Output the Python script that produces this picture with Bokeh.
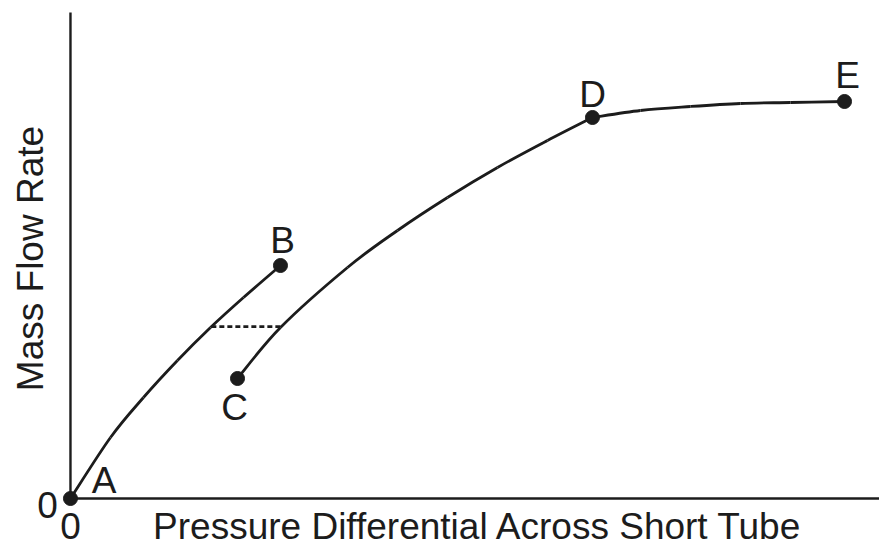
from bokeh.plotting import figure
from bokeh.models import Range1d, Label, ColumnDataSource
from bokeh.embed import file_html
from bokeh.resources import INLINE

# ---- data (arbitrary units: pressure differential 0..100, mass flow 0..100) ----
# curve A -> B
ab_x = [0.0, 5.17, 9.43, 13.82, 18.09, 22.35, 27.13]
ab_y = [0.0, 15.37, 25.44, 34.76, 43.07, 50.63, 58.69]
# curve C -> D
cd_x = [21.58, 27.13, 35.79, 42.25, 48.71, 55.17, 61.63, 67.44]
cd_y = [30.23, 43.07, 58.19, 67.51, 75.82, 83.38, 90.18, 95.97]
# curve D -> E
de_x = [67.44, 73.64, 80.10, 86.56, 93.02, 100.0]
de_y = [95.97, 97.73, 98.74, 99.50, 99.75, 100.0]
# dashed link between the two branches
dash_x = [18.2, 27.3]
dash_y = [43.3, 43.3]
# marked states
point_names = ["A", "B", "C", "D", "E"]
point_x = [0.0, 27.13, 21.58, 67.44, 100.0]
point_y = [0.0, 58.69, 30.23, 95.97, 100.0]
# tick labels / titles
tick_label = "0"
x_title = "Pressure Differential Across Short Tube"
y_title = "Mass Flow Rate"

# ---- layout (positions of the texts, in plot units) ----
letter_pos = [(4.33, 4.53), (27.39, 64.98), (21.19, 22.92), (67.44, 101.76), (100.39, 106.54)]
ink = "#1c1c1c"
font = "Liberation Sans"
fsize = "37px"


def smooth(p, xs, ys, **kw):
    """Draw a smooth curve through the read points (Catmull-Rom as cubic Beziers)."""
    n = len(xs)
    X = [xs[0]] + list(xs) + [xs[-1]]
    Y = [ys[0]] + list(ys) + [ys[-1]]
    x0, y0, x1, y1, cx0, cy0, cx1, cy1 = [], [], [], [], [], [], [], []
    for i in range(1, n):
        x0.append(X[i]); y0.append(Y[i]); x1.append(X[i + 1]); y1.append(Y[i + 1])
        cx0.append(X[i] + (X[i + 1] - X[i - 1]) / 6.0)
        cy0.append(Y[i] + (Y[i + 1] - Y[i - 1]) / 6.0)
        cx1.append(X[i + 1] - (X[i + 2] - X[i]) / 6.0)
        cy1.append(Y[i + 1] - (Y[i + 2] - Y[i]) / 6.0)
    p.bezier(x0=x0, y0=y0, x1=x1, y1=y1, cx0=cx0, cy0=cy0, cx1=cx1, cy1=cy1, **kw)


p = figure(width=879, height=546, output_backend="svg", toolbar_location=None,
           x_range=Range1d(-9.04, 104.52), y_range=Range1d(-12.09, 125.44),
           x_axis_type=None, y_axis_type=None, min_border=0,
           min_border_left=0, min_border_right=0, min_border_top=0, min_border_bottom=0)
p.grid.visible = False
p.outline_line_color = None
p.background_fill_color = "white"
p.border_fill_color = "white"

# axes lines
p.line([0, 0], [0, 122.4], line_color=ink, line_width=2.4)
p.line([0, 105.0], [0, 0], line_color=ink, line_width=2.4)

# curves
smooth(p, ab_x, ab_y, line_color=ink, line_width=2.8)
smooth(p, cd_x, cd_y, line_color=ink, line_width=2.8)
smooth(p, de_x, de_y, line_color=ink, line_width=2.8)
p.line(dash_x, dash_y, line_color=ink, line_width=2.6, line_dash="5 3")

src = ColumnDataSource(dict(x=point_x, y=point_y, name=point_names))
p.scatter("x", "y", source=src, size=14, fill_color=ink, line_color=ink)

for name, (lx, ly) in zip(point_names, letter_pos):
    p.add_layout(Label(x=lx, y=ly, text=name, text_font=font, text_font_size=fsize,
                       text_color=ink, text_align="center", text_baseline="alphabetic"))

# tick "0" labels
p.add_layout(Label(x=-2.97, y=-1.52, text=tick_label, text_font=font, text_font_size=fsize,
                   text_color=ink, text_align="center", text_baseline="alphabetic"))
p.add_layout(Label(x=0.0, y=-7.05, text=tick_label, text_font=font, text_font_size=fsize,
                   text_color=ink, text_align="center", text_baseline="alphabetic"))

# axis titles
p.add_layout(Label(x=52.65, y=-7.05, text=x_title, text_font=font, text_font_size=fsize,
                   text_color=ink, text_align="center", text_baseline="alphabetic"))
p.add_layout(Label(x=-5.17, y=60.45, text=y_title, text_font=font, text_font_size=fsize,
                   text_color=ink, text_align="center", text_baseline="alphabetic",
                   angle=1.5707963))

open("out.html", "w").write(file_html(p, INLINE))
